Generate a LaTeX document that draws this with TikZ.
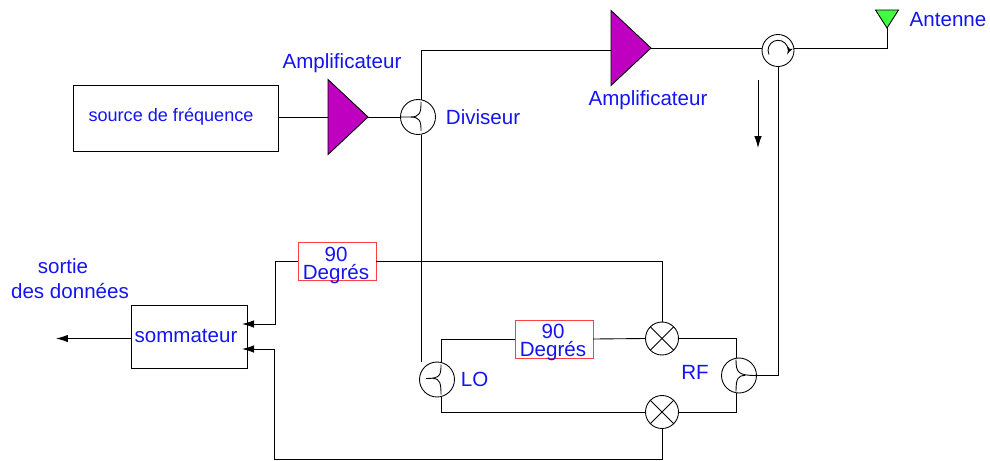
\documentclass[tikz,border=0pt]{standalone}
\usepackage{fontspec}
\setmainfont{Liberation Sans}
\usepackage{xcolor}
\definecolor{ampcolor}{HTML}{C000C0}
\definecolor{antcolor}{HTML}{40FF40}
\definecolor{labelblue}{HTML}{1414F0}
\definecolor{boxred}{HTML}{FF4040}
\usetikzlibrary{shapes, arrows, arrows.meta, positioning, calc}

\begin{document}
\begin{tikzpicture}[x=0.02cm, y=-0.02cm, line width=0.5pt]
        % Define block styles
        \tikzstyle{box} = [rectangle, draw, inner sep=0pt, outer sep=0pt]
        \tikzstyle{shifter} = [box, draw=boxred, minimum width=1.56cm, minimum height=0.76cm]
        \tikzstyle{label} = [text=labelblue, inner sep=0pt, font=\fontsize{11.7}{14}\selectfont, align=center]
        \tikzstyle{shifterlabel} = [label, font=\fontsize{11.7}{10.2}\selectfont]
        \tikzstyle{amp} = [isosceles triangle, isosceles triangle stretches, draw, fill=ampcolor, minimum width=1.5cm, minimum height=0.8cm, inner sep=0pt, outer sep=0pt, anchor=apex]
        \tikzstyle{coupler} = [circle, draw, minimum size=0.7cm, inner sep=0pt, outer sep=0pt]
        \tikzstyle{mixer} = [circle, draw, minimum size=0.66cm, inner sep=0pt, outer sep=0pt]
        \tikzstyle{line} = [draw, -{Latex[length=0.24cm, width=0.15cm]}]

        \useasboundingbox (0,0) rectangle (990,460);

        % Nodes
        \node [box, minimum width=4.1cm, minimum height=1.32cm] at (175.5,118) (source) {};
        \node [label, font=\fontsize{10.3}{12}\selectfont] at (171,116.5) (sourcelabel) {source de fréquence};
        \node [amp] at (368,117) (amp1) {};
        \node [coupler, minimum size=0.7cm] at (418,117) (divider) {};
        \node [amp] at (651,48) (amp2) {};
        \node [circle, draw, minimum size=0.64cm, inner sep=0pt, outer sep=0pt] at (778,50.5) (circulator) {};
        \node [isosceles triangle, isosceles triangle stretches, shape border rotate=270, draw, fill=antcolor, minimum width=0.46cm, minimum height=0.36cm, inner sep=0pt, outer sep=0pt, anchor=apex] at (887,28) (antenna) {};

        \node [box, minimum width=2.32cm, minimum height=1.26cm] at (189,336.5) (sum) {};
        \node [label] at (186,336) (sumlabel) {sommateur};
        \node [shifter] at (337,261.5) (shift1) {};
        \node [shifterlabel] at (336,265) (shift1label) {90\\Degrés};
        \node [shifter] at (554,339) (shift2) {};
        \node [shifterlabel] at (553,342.5) (shift2label) {90\\Degrés};
        \node [mixer] at (662,338.5) (mix1) {};
        \node [mixer] at (662,412) (mix2) {};
        \node [coupler] at (437,379.5) (lo) {};
        \node [coupler] at (739,375.5) (rf) {};

        \coordinate (sortie) at (56,338.5);
        \coordinate (looptop) at (421,50);
        \coordinate (floor) at (274,459);
        \coordinate (flowtop) at (758,80);
        \coordinate (flowend) at (758,148);

        % Labels
        \node [label] at (342,63) (amp1label) {Amplificateur};
        \node [label] at (648,100) (amp2label) {Amplificateur};
        \node [label, right=0.2cm of divider] (dividerlabel) {Diviseur};
        \node [label] at (948,20) (antennalabel) {Antenne};
        \node [label] at (63,266) (outlabel1) {sortie};
        \node [label] at (70,291) (outlabel2) {des données};
        \node [label, right=0.12cm of lo] (lolabel) {LO};
        \node [label] at (695,372) (rflabel) {RF};

        % Paths
        \path [draw] (source.east |- amp1.apex) -- (amp1.lower side);
        \path [draw] (amp1.apex) -- (divider.west);
        \path [draw] (divider.north -| looptop) -- (looptop) -- (amp2.lower side |- looptop);
        \path [draw] (divider.south -| looptop) -- (looptop |- lo.north);
        \path [draw] (amp2.apex) -- (amp2.apex -| circulator.west);
        \path [draw] (amp2.apex -| circulator.east) -| (antenna.apex);
        \path [draw] (circulator.south) |- (rf.east);
        \path [line] (flowtop) -- (flowend);

        \path [draw] (lo.north -| 441,0) |- (shift2.west);
        \path [draw] (shift2.east) -- (mix1.west);
        \path [draw] (mix1.east) -| (rf.north -| 736,0);
        \path [draw] (rf.south -| 736,0) |- (mix2.east);
        \path [draw] (mix2.west) -| (lo.south -| 441,0);

        \path [draw] (mix1.north) |- (shift1.east);
        \path [line] (shift1.west) -| (275,324) -- (242,324);
        \path [line] (mix2.south) |- (floor) |- (242,349);
        \path [line] (sum.west |- sortie) -- (sortie);

        % Symbols inside the round nodes
        \draw (mix1.45) -- (mix1.225);
        \draw (mix1.135) -- (mix1.315);
        \draw (mix2.45) -- (mix2.225);
        \draw (mix2.135) -- (mix2.315);

        \draw [shift={(divider.center)}] (3,-15) .. controls (3,-4) and (2,0) .. (-8,0) -- (-17,0) (3,14) .. controls (3,4) and (2,0) .. (-8,0);
        \draw [shift={(lo.center)}] (4,-15) .. controls (4,-4) and (3,-1) .. (-11,-1) (4,15) .. controls (4,4) and (3,-1) .. (-4,-1);
        \draw [shift={(rf.center)}] (-3,-16) .. controls (-3,-3) and (-1,0) .. (17,0) (-3,16) .. controls (-3,3) and (-1,0) .. (6,0);

        \draw [-latex'] ($(circulator.center)+(-9,4)$) arc[start angle=205, end angle=-25, radius=0.2cm];

\end{tikzpicture}
\end{document}
